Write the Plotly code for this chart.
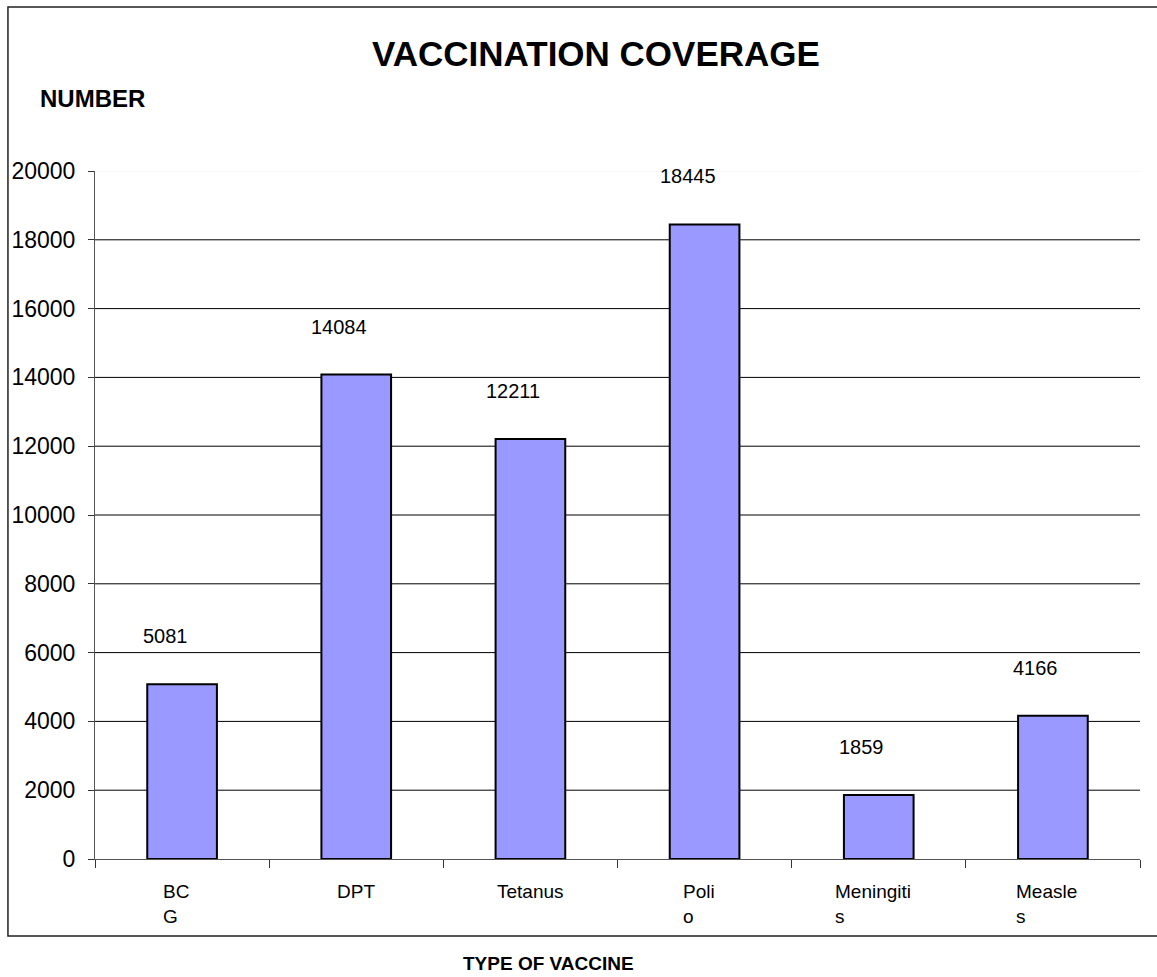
import plotly.graph_objects as go

categories = ["BCG", "DPT", "Tetanus", "Polio", "Meningitis", "Measles"]
category_labels = ["BC<br>G", "DPT", "Tetanus", "Poli<br>o", "Meningiti<br>s", "Measle<br>s"]
values = [5081, 14084, 12211, 18445, 1859, 4166]
y_ticks = [0, 2000, 4000, 6000, 8000, 10000, 12000, 14000, 16000, 18000, 20000]

FONT = "Liberation Sans, Arial, sans-serif"

fig = go.Figure()
fig.add_trace(go.Bar(
    x=categories, y=values,
    marker=dict(color="#9999FF", line=dict(color="black", width=2)),
    hoverinfo="x+y",
))

# gridlines (top one faint as in reference)
for v in y_ticks[1:]:
    fig.add_shape(type="line", xref="paper", x0=0, x1=1, yref="y", y0=v, y1=v,
                  line=dict(color="#f0f0f0" if v == y_ticks[-1] else "black", width=1),
                  layer="below")

# value labels
for c, v in zip(categories, values):
    fig.add_annotation(x=c, y=v, text=str(v), showarrow=False, xref="x", yref="y",
                       yanchor="middle", xanchor="center", xshift=-17, yshift=48,
                       font=dict(family=FONT, size=20, color="black"))

# category labels
for c, lab in zip(categories, category_labels):
    fig.add_annotation(x=c, y=0, text=lab, showarrow=False, xref="x", yref="y",
                       yanchor="top", xanchor="center", align="left",
                       xshift=-6 if "<br>" in lab else 0, yshift=-20,
                       font=dict(family=FONT, size=19, color="black"))

fig.add_annotation(text="<b>VACCINATION COVERAGE</b>", x=0.4795, y=1.1715, xref="paper", yref="paper",
                   showarrow=False, xanchor="center", yanchor="middle",
                   font=dict(family=FONT, size=35, color="black"))
fig.add_annotation(text="<b>NUMBER</b>", x=-0.0545, y=1.1047, xref="paper", yref="paper",
                   showarrow=False, xanchor="left", yanchor="middle",
                   font=dict(family=FONT, size=24, color="black"))
fig.add_annotation(text="<b>TYPE OF VACCINE</b>", x=0.4344, y=-0.1526, xref="paper", yref="paper",
                   showarrow=False, xanchor="center", yanchor="middle",
                   font=dict(family=FONT, size=19, color="black"))

# outer frame
fig.add_shape(type="rect", xref="paper", yref="paper", x0=-0.0833, x1=1.03, y0=-0.1119, y1=1.2384,
              line=dict(color="#222222", width=1.5), fillcolor="rgba(0,0,0,0)")

fig.update_layout(
    width=1157, height=977,
    margin=dict(l=95, r=17, t=171, b=118),
    paper_bgcolor="white", plot_bgcolor="white",
    bargap=0.6, showlegend=False,
    font=dict(family=FONT, color="black"),
)
fig.update_xaxes(type="category", showticklabels=False, tickson="boundaries",
                 ticks="outside", ticklen=8, tickcolor="#333", showline=True,
                 linecolor="#555", linewidth=1, showgrid=False, zeroline=False)
fig.update_yaxes(range=[0, 20000], tickvals=y_ticks, tickformat="d", ticks="outside", ticklen=6,
                 tickcolor="#333", showline=True, linecolor="#555", linewidth=1,
                 showgrid=False, zeroline=False, tickfont=dict(family=FONT, size=23, color="black"),
                 ticklabelstandoff=8)

fig.write_html("out.html", config={"displayModeBar": False},
               post_script="document.body.style.margin='0';document.body.style.overflow='hidden';")
